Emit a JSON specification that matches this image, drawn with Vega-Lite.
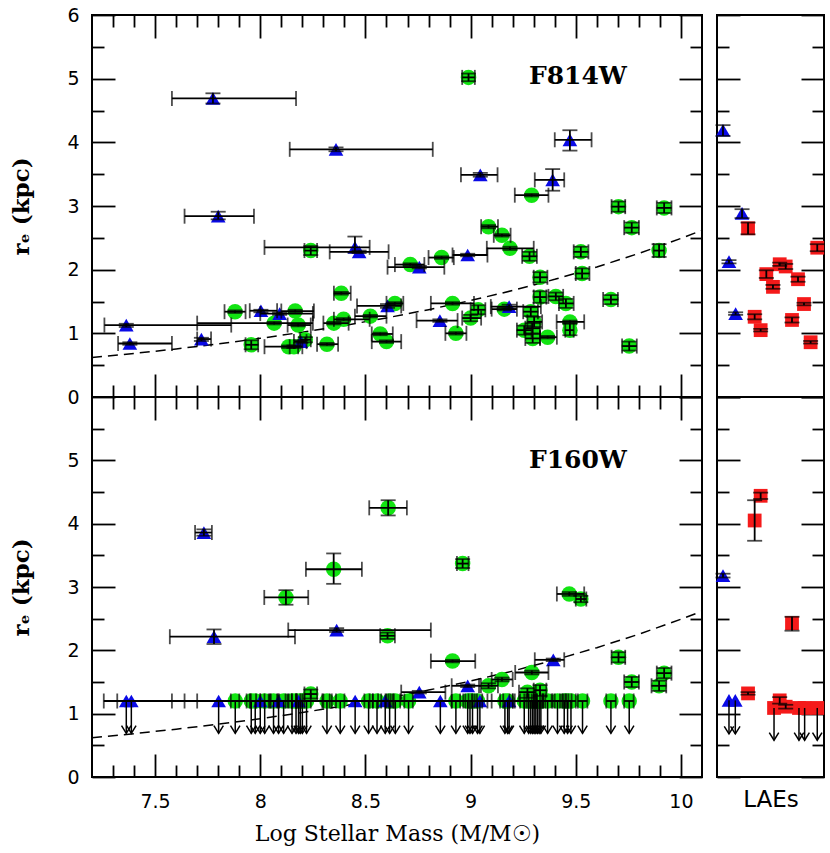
{
  "$schema": "https://vega.github.io/schema/vega-lite/v6.json",
  "padding": {"left": 9, "top": 5, "right": 5, "bottom": 5},
  "background": "white",
  "datasets": {
    "curve": [
      {"x": 7.2, "y": 0.619}, {"x": 7.4, "y": 0.684}, {"x": 7.6, "y": 0.755}, {"x": 7.8, "y": 0.834},
      {"x": 8.0, "y": 0.921}, {"x": 8.2, "y": 1.018}, {"x": 8.4, "y": 1.124}, {"x": 8.6, "y": 1.242},
      {"x": 8.8, "y": 1.372}, {"x": 9.0, "y": 1.515}, {"x": 9.2, "y": 1.673}, {"x": 9.4, "y": 1.848},
      {"x": 9.6, "y": 2.042}, {"x": 9.8, "y": 2.255}, {"x": 10.0, "y": 2.491}, {"x": 10.1, "y": 2.618}
    ],
    "top": [
      {"x": 8.99, "y": 5.02, "xl": 8.96, "xh": 9.02, "yl": 4.96, "yh": 5.08, "t": "g"},
      {"x": 9.29, "y": 3.17, "xl": 9.21, "xh": 9.37, "yl": 3.15, "yh": 3.19, "t": "g"},
      {"x": 9.085, "y": 2.675, "xl": 9.05, "xh": 9.13, "yl": 2.65, "yh": 2.7, "t": "g"},
      {"x": 9.149, "y": 2.54, "xl": 9.11, "xh": 9.19, "yl": 2.52, "yh": 2.56, "t": "g"},
      {"x": 9.187, "y": 2.335, "xl": 9.077, "xh": 9.3, "yl": 2.31, "yh": 2.36, "t": "g"},
      {"x": 9.28, "y": 2.21, "xl": 9.245, "xh": 9.315, "yl": 2.14, "yh": 2.28, "t": "g"},
      {"x": 9.524, "y": 2.28, "xl": 9.49, "xh": 9.56, "yl": 2.2, "yh": 2.36, "t": "g"},
      {"x": 9.703, "y": 2.99, "xl": 9.67, "xh": 9.735, "yl": 2.91, "yh": 3.07, "t": "g"},
      {"x": 9.92, "y": 2.97, "xl": 9.885, "xh": 9.955, "yl": 2.89, "yh": 3.05, "t": "g"},
      {"x": 9.766, "y": 2.66, "xl": 9.73, "xh": 9.8, "yl": 2.58, "yh": 2.74, "t": "g"},
      {"x": 9.896, "y": 2.3, "xl": 9.87, "xh": 9.92, "yl": 2.2, "yh": 2.4, "t": "g"},
      {"x": 9.33, "y": 1.88, "xl": 9.3, "xh": 9.365, "yl": 1.8, "yh": 1.96, "t": "g"},
      {"x": 9.53, "y": 1.94, "xl": 9.5, "xh": 9.565, "yl": 1.86, "yh": 2.02, "t": "g"},
      {"x": 8.862, "y": 2.19, "xl": 8.8, "xh": 8.92, "yl": 2.17, "yh": 2.21, "t": "g"},
      {"x": 8.713, "y": 2.08, "xl": 8.64, "xh": 8.78, "yl": 2.06, "yh": 2.1, "t": "g"},
      {"x": 9.667, "y": 1.53, "xl": 9.63, "xh": 9.7, "yl": 1.46, "yh": 1.6, "t": "g"},
      {"x": 9.754, "y": 0.8, "xl": 9.72, "xh": 9.79, "yl": 0.73, "yh": 0.87, "t": "g"},
      {"x": 8.914, "y": 1.47, "xl": 8.811, "xh": 9.016, "yl": 1.45, "yh": 1.49, "t": "g"},
      {"x": 9.16, "y": 1.38, "xl": 9.1, "xh": 9.22, "yl": 1.36, "yh": 1.4, "t": "g"},
      {"x": 9.036, "y": 1.37, "xl": 9.0, "xh": 9.07, "yl": 1.3, "yh": 1.44, "t": "g"},
      {"x": 9.0, "y": 1.24, "xl": 8.96, "xh": 9.05, "yl": 1.19, "yh": 1.29, "t": "g"},
      {"x": 8.93, "y": 1.0, "xl": 8.88, "xh": 8.98, "yl": 0.98, "yh": 1.02, "t": "g"},
      {"x": 9.33, "y": 1.57, "xl": 9.3, "xh": 9.36, "yl": 1.48, "yh": 1.66, "t": "g"},
      {"x": 9.405, "y": 1.58, "xl": 9.37, "xh": 9.44, "yl": 1.52, "yh": 1.64, "t": "g"},
      {"x": 9.453, "y": 1.47, "xl": 9.42, "xh": 9.49, "yl": 1.4, "yh": 1.54, "t": "g"},
      {"x": 9.286, "y": 1.34, "xl": 9.25, "xh": 9.32, "yl": 1.27, "yh": 1.41, "t": "g"},
      {"x": 9.302, "y": 1.18, "xl": 9.27, "xh": 9.34, "yl": 1.1, "yh": 1.26, "t": "g"},
      {"x": 9.295, "y": 1.08, "xl": 9.26, "xh": 9.33, "yl": 1.0, "yh": 1.16, "t": "g"},
      {"x": 9.255, "y": 1.05, "xl": 9.22, "xh": 9.29, "yl": 0.98, "yh": 1.12, "t": "g"},
      {"x": 9.295, "y": 0.92, "xl": 9.26, "xh": 9.33, "yl": 0.85, "yh": 0.99, "t": "g"},
      {"x": 9.366, "y": 0.94, "xl": 9.33, "xh": 9.41, "yl": 0.92, "yh": 0.96, "t": "g"},
      {"x": 9.472, "y": 1.18, "xl": 9.409, "xh": 9.54, "yl": 1.16, "yh": 1.2, "t": "g"},
      {"x": 9.472, "y": 1.05, "xl": 9.45, "xh": 9.49, "yl": 0.97, "yh": 1.15, "t": "g"},
      {"x": 7.957, "y": 0.82, "xl": 7.93, "xh": 7.99, "yl": 0.75, "yh": 0.89, "t": "g"},
      {"x": 7.88, "y": 1.34, "xl": 7.83, "xh": 7.93, "yl": 1.32, "yh": 1.36, "t": "g"},
      {"x": 8.166, "y": 1.35, "xl": 8.1, "xh": 8.255, "yl": 1.33, "yh": 1.37, "t": "g"},
      {"x": 8.066, "y": 1.16, "xl": 7.7, "xh": 8.25, "yl": 1.14, "yh": 1.18, "t": "g"},
      {"x": 8.18, "y": 1.13, "xl": 8.13, "xh": 8.24, "yl": 1.11, "yh": 1.15, "t": "g"},
      {"x": 8.135, "y": 0.79, "xl": 8.02, "xh": 8.2, "yl": 0.77, "yh": 0.81, "t": "g"},
      {"x": 8.16, "y": 0.79, "xl": 8.14, "xh": 8.18, "yl": 0.77, "yh": 0.81, "t": "g"},
      {"x": 8.214, "y": 0.9, "xl": 8.19, "xh": 8.24, "yl": 0.86, "yh": 0.94, "t": "g"},
      {"x": 8.317, "y": 0.83, "xl": 8.27, "xh": 8.37, "yl": 0.81, "yh": 0.85, "t": "g"},
      {"x": 8.35, "y": 1.16, "xl": 8.3, "xh": 8.42, "yl": 1.14, "yh": 1.18, "t": "g"},
      {"x": 8.396, "y": 1.22, "xl": 8.35, "xh": 8.52, "yl": 1.2, "yh": 1.24, "t": "g"},
      {"x": 8.385, "y": 1.63, "xl": 8.35, "xh": 8.43, "yl": 1.61, "yh": 1.65, "t": "g"},
      {"x": 8.523, "y": 1.27, "xl": 8.45, "xh": 8.6, "yl": 1.25, "yh": 1.29, "t": "g"},
      {"x": 8.57, "y": 0.99, "xl": 8.53, "xh": 8.63, "yl": 0.97, "yh": 1.01, "t": "g"},
      {"x": 8.6, "y": 0.87, "xl": 8.53, "xh": 8.67, "yl": 0.85, "yh": 0.89, "t": "g"},
      {"x": 8.64, "y": 1.47, "xl": 8.6, "xh": 8.68, "yl": 1.45, "yh": 1.49, "t": "g"},
      {"x": 8.24, "y": 2.3, "xl": 8.21, "xh": 8.27, "yl": 2.23, "yh": 2.37, "t": "g"},
      {"x": 7.775, "y": 4.69, "xl": 7.58, "xh": 8.17, "yl": 4.61, "yh": 4.77, "t": "b"},
      {"x": 8.36, "y": 3.89, "xl": 8.14, "xh": 8.82, "yl": 3.86, "yh": 3.92, "t": "b"},
      {"x": 7.8, "y": 2.84, "xl": 7.64, "xh": 7.97, "yl": 2.79, "yh": 2.91, "t": "b"},
      {"x": 8.45, "y": 2.35, "xl": 8.02, "xh": 8.52, "yl": 2.27, "yh": 2.52, "t": "b"},
      {"x": 8.47, "y": 2.28, "xl": 8.33, "xh": 8.61, "yl": 2.26, "yh": 2.3, "t": "b"},
      {"x": 9.472, "y": 4.04, "xl": 9.4, "xh": 9.575, "yl": 3.87, "yh": 4.19, "t": "b"},
      {"x": 9.046, "y": 3.49, "xl": 8.954, "xh": 9.128, "yl": 3.46, "yh": 3.52, "t": "b"},
      {"x": 9.39, "y": 3.41, "xl": 9.305, "xh": 9.445, "yl": 3.24, "yh": 3.58, "t": "b"},
      {"x": 8.986, "y": 2.23, "xl": 8.914, "xh": 9.08, "yl": 2.21, "yh": 2.25, "t": "b"},
      {"x": 8.756, "y": 2.04, "xl": 8.605, "xh": 8.875, "yl": 2.02, "yh": 2.06, "t": "b"},
      {"x": 9.183, "y": 1.42, "xl": 9.096, "xh": 9.334, "yl": 1.39, "yh": 1.45, "t": "b"},
      {"x": 8.854, "y": 1.2, "xl": 8.743, "xh": 8.938, "yl": 1.18, "yh": 1.22, "t": "b"},
      {"x": 7.363, "y": 1.13, "xl": 7.259, "xh": 7.862, "yl": 1.1, "yh": 1.15, "t": "b"},
      {"x": 7.38, "y": 0.84, "xl": 7.324, "xh": 7.58, "yl": 0.82, "yh": 0.86, "t": "b"},
      {"x": 7.72, "y": 0.91, "xl": 7.7, "xh": 7.766, "yl": 0.88, "yh": 0.93, "t": "b"},
      {"x": 8.003, "y": 1.355, "xl": 7.95, "xh": 8.08, "yl": 1.33, "yh": 1.37, "t": "b"},
      {"x": 8.092, "y": 1.31, "xl": 8.0, "xh": 8.25, "yl": 1.29, "yh": 1.33, "t": "b"},
      {"x": 8.193, "y": 0.87, "xl": 8.16, "xh": 8.22, "yl": 0.85, "yh": 0.89, "t": "b"},
      {"x": 8.605, "y": 1.43, "xl": 8.46, "xh": 8.67, "yl": 1.4, "yh": 1.46, "t": "b"}
    ],
    "bot": [
      {"x": 8.608, "y": 4.25, "xl": 8.518, "xh": 8.697, "yl": 4.13, "yh": 4.37, "t": "g", "ul": 0},
      {"x": 8.349, "y": 3.28, "xl": 8.217, "xh": 8.483, "yl": 3.05, "yh": 3.53, "t": "g", "ul": 0},
      {"x": 8.122, "y": 2.835, "xl": 8.019, "xh": 8.228, "yl": 2.72, "yh": 2.95, "t": "g", "ul": 0},
      {"x": 8.605, "y": 2.23, "xl": 8.57, "xh": 8.64, "yl": 2.18, "yh": 2.28, "t": "g", "ul": 0},
      {"x": 8.962, "y": 3.37, "xl": 8.935, "xh": 8.99, "yl": 3.3, "yh": 3.44, "t": "g", "ul": 0},
      {"x": 9.469, "y": 2.89, "xl": 9.41, "xh": 9.54, "yl": 2.86, "yh": 2.92, "t": "g", "ul": 0},
      {"x": 9.524, "y": 2.81, "xl": 9.5, "xh": 9.55, "yl": 2.76, "yh": 2.86, "t": "g", "ul": 0},
      {"x": 8.914, "y": 1.83, "xl": 8.811, "xh": 9.022, "yl": 1.81, "yh": 1.85, "t": "g", "ul": 0},
      {"x": 9.291, "y": 1.65, "xl": 9.212, "xh": 9.37, "yl": 1.62, "yh": 1.68, "t": "g", "ul": 0},
      {"x": 9.703, "y": 1.89, "xl": 9.67, "xh": 9.735, "yl": 1.81, "yh": 1.97, "t": "g", "ul": 0},
      {"x": 9.766, "y": 1.5, "xl": 9.73, "xh": 9.8, "yl": 1.42, "yh": 1.58, "t": "g", "ul": 0},
      {"x": 9.92, "y": 1.64, "xl": 9.885, "xh": 9.955, "yl": 1.56, "yh": 1.72, "t": "g", "ul": 0},
      {"x": 9.896, "y": 1.44, "xl": 9.86, "xh": 9.93, "yl": 1.36, "yh": 1.52, "t": "g", "ul": 0},
      {"x": 9.149, "y": 1.54, "xl": 9.1, "xh": 9.2, "yl": 1.51, "yh": 1.57, "t": "g", "ul": 0},
      {"x": 9.085, "y": 1.44, "xl": 9.04, "xh": 9.13, "yl": 1.4, "yh": 1.48, "t": "g", "ul": 0},
      {"x": 9.27, "y": 1.34, "xl": 9.23, "xh": 9.31, "yl": 1.25, "yh": 1.4, "t": "g", "ul": 0},
      {"x": 9.33, "y": 1.37, "xl": 9.3, "xh": 9.36, "yl": 1.28, "yh": 1.45, "t": "g", "ul": 0},
      {"x": 8.24, "y": 1.31, "xl": 8.21, "xh": 8.27, "yl": 1.24, "yh": 1.38, "t": "g", "ul": 0},
      {"x": 7.881, "y": 1.2, "xl": 7.86, "xh": 7.9, "t": "g", "ul": 1},
      {"x": 7.957, "y": 1.2, "xl": 7.935, "xh": 7.98, "t": "g", "ul": 1},
      {"x": 7.976, "y": 1.2, "xl": 7.955, "xh": 8.0, "t": "g", "ul": 1},
      {"x": 8.021, "y": 1.2, "xl": 8.0, "xh": 8.045, "t": "g", "ul": 1},
      {"x": 8.063, "y": 1.2, "xl": 8.04, "xh": 8.085, "t": "g", "ul": 1},
      {"x": 8.111, "y": 1.2, "xl": 8.09, "xh": 8.135, "t": "g", "ul": 1},
      {"x": 8.151, "y": 1.2, "xl": 8.13, "xh": 8.175, "t": "g", "ul": 1},
      {"x": 8.17, "y": 1.2, "xl": 8.15, "xh": 8.19, "t": "g", "ul": 1},
      {"x": 8.19, "y": 1.2, "xl": 8.17, "xh": 8.21, "t": "g", "ul": 1},
      {"x": 8.2, "y": 1.2, "xl": 8.15, "xh": 8.3, "t": "g", "ul": 1},
      {"x": 8.22, "y": 1.2, "xl": 8.2, "xh": 8.24, "t": "g", "ul": 1},
      {"x": 8.317, "y": 1.2, "xl": 8.295, "xh": 8.34, "t": "g", "ul": 1},
      {"x": 8.38, "y": 1.2, "xl": 8.36, "xh": 8.4, "t": "g", "ul": 1},
      {"x": 8.515, "y": 1.2, "xl": 8.495, "xh": 8.535, "t": "g", "ul": 1},
      {"x": 8.555, "y": 1.2, "xl": 8.535, "xh": 8.575, "t": "g", "ul": 1},
      {"x": 8.615, "y": 1.2, "xl": 8.595, "xh": 8.635, "t": "g", "ul": 1},
      {"x": 8.642, "y": 1.2, "xl": 8.62, "xh": 8.665, "t": "g", "ul": 1},
      {"x": 8.705, "y": 1.2, "xl": 8.685, "xh": 8.725, "t": "g", "ul": 1},
      {"x": 8.93, "y": 1.2, "xl": 8.91, "xh": 8.95, "t": "g", "ul": 1},
      {"x": 8.986, "y": 1.2, "xl": 8.965, "xh": 9.005, "t": "g", "ul": 1},
      {"x": 8.997, "y": 1.2, "xl": 8.975, "xh": 9.02, "t": "g", "ul": 1},
      {"x": 9.009, "y": 1.2, "xl": 8.99, "xh": 9.03, "t": "g", "ul": 1},
      {"x": 9.033, "y": 1.2, "xl": 9.01, "xh": 9.055, "t": "g", "ul": 1},
      {"x": 9.163, "y": 1.2, "xl": 9.14, "xh": 9.185, "t": "g", "ul": 1},
      {"x": 9.176, "y": 1.2, "xl": 9.155, "xh": 9.2, "t": "g", "ul": 1},
      {"x": 9.255, "y": 1.2, "xl": 9.235, "xh": 9.275, "t": "g", "ul": 1},
      {"x": 9.276, "y": 1.2, "xl": 9.255, "xh": 9.3, "t": "g", "ul": 1},
      {"x": 9.286, "y": 1.2, "xl": 9.265, "xh": 9.31, "t": "g", "ul": 1},
      {"x": 9.295, "y": 1.2, "xl": 9.275, "xh": 9.315, "t": "g", "ul": 1},
      {"x": 9.302, "y": 1.2, "xl": 9.21, "xh": 9.4, "t": "g", "ul": 1},
      {"x": 9.31, "y": 1.2, "xl": 9.29, "xh": 9.33, "t": "g", "ul": 1},
      {"x": 9.318, "y": 1.2, "xl": 9.3, "xh": 9.34, "t": "g", "ul": 1},
      {"x": 9.326, "y": 1.2, "xl": 9.305, "xh": 9.345, "t": "g", "ul": 1},
      {"x": 9.334, "y": 1.2, "xl": 9.315, "xh": 9.355, "t": "g", "ul": 1},
      {"x": 9.366, "y": 1.2, "xl": 9.345, "xh": 9.385, "t": "g", "ul": 1},
      {"x": 9.413, "y": 1.2, "xl": 9.39, "xh": 9.435, "t": "g", "ul": 1},
      {"x": 9.445, "y": 1.2, "xl": 9.425, "xh": 9.465, "t": "g", "ul": 1},
      {"x": 9.461, "y": 1.2, "xl": 9.44, "xh": 9.48, "t": "g", "ul": 1},
      {"x": 9.477, "y": 1.2, "xl": 9.455, "xh": 9.5, "t": "g", "ul": 1},
      {"x": 9.532, "y": 1.2, "xl": 9.51, "xh": 9.555, "t": "g", "ul": 1},
      {"x": 9.667, "y": 1.2, "xl": 9.645, "xh": 9.69, "t": "g", "ul": 1},
      {"x": 9.754, "y": 1.2, "xl": 9.73, "xh": 9.775, "t": "g", "ul": 1},
      {"x": 7.732, "y": 3.86, "xl": 7.69, "xh": 7.77, "yl": 3.81, "yh": 3.91, "t": "b", "ul": 0},
      {"x": 7.78, "y": 2.215, "xl": 7.57, "xh": 8.165, "yl": 2.1, "yh": 2.33, "t": "b", "ul": 0},
      {"x": 8.363, "y": 2.32, "xl": 8.133, "xh": 8.811, "yl": 2.29, "yh": 2.35, "t": "b", "ul": 0},
      {"x": 9.393, "y": 1.85, "xl": 9.305, "xh": 9.445, "yl": 1.83, "yh": 1.87, "t": "b", "ul": 0},
      {"x": 8.986, "y": 1.44, "xl": 8.91, "xh": 9.049, "yl": 1.42, "yh": 1.46, "t": "b", "ul": 0},
      {"x": 8.756, "y": 1.34, "xl": 8.67, "xh": 8.88, "yl": 1.32, "yh": 1.36, "t": "b", "ul": 0},
      {"x": 7.363, "y": 1.2, "xl": 7.256, "xh": 7.7, "t": "b", "ul": 1},
      {"x": 7.387, "y": 1.2, "xl": 7.32, "xh": 7.58, "t": "b", "ul": 1},
      {"x": 7.802, "y": 1.2, "xl": 7.64, "xh": 8.17, "t": "b", "ul": 1},
      {"x": 8.0, "y": 1.2, "xl": 7.95, "xh": 8.08, "t": "b", "ul": 1},
      {"x": 8.087, "y": 1.2, "xl": 8.05, "xh": 8.12, "t": "b", "ul": 1},
      {"x": 8.182, "y": 1.2, "xl": 8.02, "xh": 8.52, "t": "b", "ul": 1},
      {"x": 8.451, "y": 1.2, "xl": 8.33, "xh": 8.61, "t": "b", "ul": 1},
      {"x": 8.594, "y": 1.2, "xl": 8.56, "xh": 8.63, "t": "b", "ul": 1},
      {"x": 8.856, "y": 1.2, "xl": 8.6, "xh": 9.1, "t": "b", "ul": 1},
      {"x": 9.044, "y": 1.2, "xl": 8.91, "xh": 9.2, "t": "b", "ul": 1},
      {"x": 9.183, "y": 1.2, "xl": 9.08, "xh": 9.45, "t": "b", "ul": 1}
    ],
    "rtop": [
      {"x": 0.29, "y": 2.65, "yl": 2.555, "yh": 2.74, "t": "r"},
      {"x": 0.937, "y": 2.345, "yl": 2.29, "yh": 2.4, "t": "r"},
      {"x": 0.586, "y": 2.085, "yl": 2.06, "yh": 2.11, "t": "r"},
      {"x": 0.642, "y": 2.05, "yl": 2.01, "yh": 2.09, "t": "r"},
      {"x": 0.461, "y": 1.93, "yl": 1.87, "yh": 1.99, "t": "r"},
      {"x": 0.757, "y": 1.85, "yl": 1.81, "yh": 1.89, "t": "r"},
      {"x": 0.523, "y": 1.73, "yl": 1.7, "yh": 1.76, "t": "r"},
      {"x": 0.813, "y": 1.46, "yl": 1.44, "yh": 1.48, "t": "r"},
      {"x": 0.352, "y": 1.26, "yl": 1.22, "yh": 1.3, "t": "r"},
      {"x": 0.701, "y": 1.21, "yl": 1.17, "yh": 1.25, "t": "r"},
      {"x": 0.408, "y": 1.05, "yl": 1.03, "yh": 1.07, "t": "r"},
      {"x": 0.875, "y": 0.86, "yl": 0.84, "yh": 0.88, "t": "r"},
      {"x": 0.056, "y": 4.19, "yl": 4.1, "yh": 4.27, "t": "b"},
      {"x": 0.234, "y": 2.885, "yl": 2.81, "yh": 2.95, "t": "b"},
      {"x": 0.112, "y": 2.125, "yl": 2.1, "yh": 2.15, "t": "b"},
      {"x": 0.174, "y": 1.31, "yl": 1.29, "yh": 1.33, "t": "b"}
    ],
    "rbot": [
      {"x": 0.408, "y": 4.44, "yl": 4.39, "yh": 4.49, "t": "r", "ul": 0},
      {"x": 0.352, "y": 4.05, "yl": 3.73, "yh": 4.37, "t": "r", "ul": 0},
      {"x": 0.701, "y": 2.43, "yl": 2.31, "yh": 2.53, "t": "r", "ul": 0},
      {"x": 0.29, "y": 1.32, "yl": 1.3, "yh": 1.34, "t": "r", "ul": 0},
      {"x": 0.586, "y": 1.21, "yl": 1.16, "yh": 1.26, "t": "r", "ul": 0},
      {"x": 0.642, "y": 1.11, "yl": 1.08, "yh": 1.14, "t": "r", "ul": 0},
      {"x": 0.533, "y": 1.09, "t": "r", "ul": 1},
      {"x": 0.766, "y": 1.09, "t": "r", "ul": 1},
      {"x": 0.819, "y": 1.09, "t": "r", "ul": 1},
      {"x": 0.937, "y": 1.09, "t": "r", "ul": 1},
      {"x": 0.056, "y": 3.18, "yl": 3.15, "yh": 3.21, "t": "b", "ul": 0},
      {"x": 0.112, "y": 1.21, "t": "b", "ul": 1},
      {"x": 0.171, "y": 1.21, "t": "b", "ul": 1}
    ]
  },
  "bounds": "flush",
  "columns": 2,
  "spacing": {"row": 0, "column": 15},
  "resolve": {"scale": {"x": "independent", "y": "independent"}},
  "concat": [
    {
      "width": 610,
      "height": 382,
      "resolve": {"axis": {"x": "independent", "y": "independent"}},
      "layer": [
        {
          "data": {"name": "curve"},
          "mark": {"type": "line", "color": "black", "strokeWidth": 1.5, "strokeDash": [10, 6]},
          "encoding": {
            "x": {"field": "x", "type": "quantitative", "scale": {"domain": [7.2, 10.1], "nice": false, "zero": false},
              "axis": {"orient": "bottom", "values": [7.5, 8, 8.5, 9, 9.5, 10], "tickSize": -23, "labels": false, "title": null}},
            "y": {"field": "y", "type": "quantitative", "scale": {"domain": [0, 6], "nice": false, "zero": false},
              "axis": {"orient": "left", "values": [0, 1, 2, 3, 4, 5, 6], "tickSize": -23, "labelPadding": 36, "title": "rₑ (kpc)", "titlePadding": 33, "titleFont": "DejaVu Serif", "titleFontSize": 23, "titleFontWeight": "bold"}}
          }
        },
        {
          "data": {"name": "top"},
          "mark": {"type": "point", "filled": true, "opacity": 1},
          "encoding": {
            "x": {"field": "x", "type": "quantitative", "scale": {"domain": [7.2, 10.1], "nice": false, "zero": false},
              "axis": {"orient": "top", "values": [7.5, 8, 8.5, 9, 9.5, 10], "tickSize": -23, "labels": false, "title": null}},
            "y": {"field": "y", "type": "quantitative", "scale": {"domain": [0, 6], "nice": false, "zero": false},
              "axis": {"orient": "right", "values": [0, 1, 2, 3, 4, 5, 6], "tickSize": -23, "labels": false, "title": null}},
            "color": {"field": "t", "type": "nominal", "scale": {"domain": ["g", "b", "r"], "range": ["#12e412", "#0a0ae6", "#f51a1a"]}, "legend": null},
            "shape": {"field": "t", "type": "nominal", "scale": {"domain": ["g", "b", "r"], "range": ["circle", "triangle-up", "square"]}, "legend": null},
            "size": {"field": "t", "type": "ordinal", "scale": {"domain": ["g", "b", "r"], "range": [240, 190, 144]}, "legend": null}
          }
        },
        {
          "data": {"name": "top"},
          "mark": {"type": "rule", "color": "black", "strokeWidth": 1.8},
          "encoding": {
            "x": {"field": "xl", "type": "quantitative", "scale": {"domain": [7.2, 10.1], "nice": false, "zero": false},
              "axis": {"orient": "bottom", "values": [7.3, 7.4, 7.6, 7.7, 7.8, 7.9, 8.1, 8.2, 8.3, 8.4, 8.6, 8.7, 8.8, 8.9, 9.1, 9.2, 9.3, 9.4, 9.6, 9.7, 9.8, 9.9], "tickSize": -12, "labels": false, "title": null}},
            "x2": {"field": "xh"},
            "y": {"field": "y", "type": "quantitative", "scale": {"domain": [0, 6], "nice": false, "zero": false},
              "axis": {"orient": "left", "values": [0.5, 1.5, 2.5, 3.5, 4.5, 5.5], "tickSize": -12, "labels": false, "title": null}}
          }
        },
        {
          "data": {"name": "top"},
          "mark": {"type": "rule", "color": "black", "strokeWidth": 1.8},
          "encoding": {
            "x": {"field": "x", "type": "quantitative", "scale": {"domain": [7.2, 10.1], "nice": false, "zero": false},
              "axis": {"orient": "top", "values": [7.3, 7.4, 7.6, 7.7, 7.8, 7.9, 8.1, 8.2, 8.3, 8.4, 8.6, 8.7, 8.8, 8.9, 9.1, 9.2, 9.3, 9.4, 9.6, 9.7, 9.8, 9.9], "tickSize": -12, "labels": false, "title": null}},
            "y": {"field": "yl", "type": "quantitative", "scale": {"domain": [0, 6], "nice": false, "zero": false},
              "axis": {"orient": "right", "values": [0.5, 1.5, 2.5, 3.5, 4.5, 5.5], "tickSize": -12, "labels": false, "title": null}},
            "y2": {"field": "yh"}
          }
        },
        {
          "data": {"name": "top"},
          "transform": [{"fold": ["xl", "xh"], "as": ["k", "xv"]}],
          "mark": {"type": "tick", "orient": "vertical", "color": "black", "thickness": 1.8, "size": 15},
          "encoding": {
            "x": {"field": "xv", "type": "quantitative", "scale": {"domain": [7.2, 10.1], "nice": false, "zero": false}, "axis": null},
            "y": {"field": "y", "type": "quantitative", "scale": {"domain": [0, 6], "nice": false, "zero": false}, "axis": null}
          }
        },
        {
          "data": {"name": "top"},
          "transform": [{"fold": ["yl", "yh"], "as": ["k", "yv"]}],
          "mark": {"type": "tick", "orient": "horizontal", "color": "black", "thickness": 1.8, "size": 15},
          "encoding": {
            "x": {"field": "x", "type": "quantitative", "scale": {"domain": [7.2, 10.1], "nice": false, "zero": false}, "axis": null},
            "y": {"field": "yv", "type": "quantitative", "scale": {"domain": [0, 6], "nice": false, "zero": false}, "axis": null}
          }
        },
        {
          "data": {"values": [{"label": "F814W"}]},
          "mark": {"type": "text", "font": "DejaVu Serif", "fontWeight": "bold", "fontSize": 25, "color": "black", "align": "center", "baseline": "middle"},
          "encoding": {
            "x": {"datum": 9.51, "type": "quantitative", "scale": {"domain": [7.2, 10.1], "nice": false, "zero": false}, "axis": null},
            "y": {"datum": 5.04, "type": "quantitative", "scale": {"domain": [0, 6], "nice": false, "zero": false}, "axis": null},
            "text": {"field": "label"}
          }
        }
      ]
    },
    {
      "width": 107,
      "height": 382,
      "resolve": {"axis": {"x": "independent", "y": "independent"}},
      "layer": [
        {
          "data": {"name": "rtop"},
          "mark": {"type": "point", "filled": true, "opacity": 1},
          "encoding": {
            "x": {"field": "x", "type": "quantitative", "scale": {"domain": [0, 1], "nice": false, "zero": false}, "axis": null},
            "y": {"field": "y", "type": "quantitative", "scale": {"domain": [0, 6], "nice": false, "zero": false},
              "axis": {"orient": "left", "values": [0, 1, 2, 3, 4, 5, 6], "tickSize": -23, "labels": false, "title": null}},
            "color": {"field": "t", "type": "nominal", "scale": {"domain": ["g", "b", "r"], "range": ["#12e412", "#0a0ae6", "#f51a1a"]}, "legend": null},
            "shape": {"field": "t", "type": "nominal", "scale": {"domain": ["g", "b", "r"], "range": ["circle", "triangle-up", "square"]}, "legend": null},
            "size": {"field": "t", "type": "ordinal", "scale": {"domain": ["g", "b", "r"], "range": [240, 190, 144]}, "legend": null}
          }
        },
        {
          "data": {"name": "rtop"},
          "mark": {"type": "rule", "color": "black", "strokeWidth": 1.8},
          "encoding": {
            "x": {"field": "x", "type": "quantitative", "scale": {"domain": [0, 1], "nice": false, "zero": false}, "axis": null},
            "y": {"field": "yl", "type": "quantitative", "scale": {"domain": [0, 6], "nice": false, "zero": false},
              "axis": {"orient": "right", "values": [0, 1, 2, 3, 4, 5, 6], "tickSize": -23, "labels": false, "title": null}},
            "y2": {"field": "yh"}
          }
        },
        {
          "data": {"name": "rtop"},
          "mark": {"type": "tick", "orient": "horizontal", "color": "black", "thickness": 1.8, "size": 15},
          "encoding": {
            "x": {"field": "x", "type": "quantitative", "scale": {"domain": [0, 1], "nice": false, "zero": false}, "axis": null},
            "y": {"field": "yl", "type": "quantitative", "scale": {"domain": [0, 6], "nice": false, "zero": false},
              "axis": {"orient": "left", "values": [0.5, 1.5, 2.5, 3.5, 4.5, 5.5], "tickSize": -12, "labels": false, "title": null}}
          }
        },
        {
          "data": {"name": "rtop"},
          "mark": {"type": "tick", "orient": "horizontal", "color": "black", "thickness": 1.8, "size": 15},
          "encoding": {
            "x": {"field": "x", "type": "quantitative", "scale": {"domain": [0, 1], "nice": false, "zero": false}, "axis": null},
            "y": {"field": "yh", "type": "quantitative", "scale": {"domain": [0, 6], "nice": false, "zero": false},
              "axis": {"orient": "right", "values": [0.5, 1.5, 2.5, 3.5, 4.5, 5.5], "tickSize": -12, "labels": false, "title": null}}
          }
        }
      ]
    },
    {
      "width": 610,
      "height": 380,
      "resolve": {"axis": {"x": "independent", "y": "independent"}},
      "layer": [
        {
          "data": {"name": "curve"},
          "mark": {"type": "line", "color": "black", "strokeWidth": 1.5, "strokeDash": [10, 6]},
          "encoding": {
            "x": {"field": "x", "type": "quantitative", "scale": {"domain": [7.2, 10.1], "nice": false, "zero": false},
              "axis": {"orient": "bottom", "values": [7.5, 8, 8.5, 9, 9.5, 10], "tickSize": -23, "labelPadding": 38, "format": "~g", "title": "Log Stellar Mass (M/M☉)", "titlePadding": 12, "titleFont": "DejaVu Serif", "titleFontSize": 22, "titleFontWeight": "normal"}},
            "y": {"field": "y", "type": "quantitative", "scale": {"domain": [0, 6], "nice": false, "zero": false},
              "axis": {"orient": "left", "values": [0, 1, 2, 3, 4, 5], "tickSize": -23, "labelPadding": 36, "title": "rₑ (kpc)", "titlePadding": 33, "titleFont": "DejaVu Serif", "titleFontSize": 23, "titleFontWeight": "bold"}}
          }
        },
        {
          "data": {"name": "bot"},
          "mark": {"type": "point", "filled": true, "opacity": 1},
          "encoding": {
            "x": {"field": "x", "type": "quantitative", "scale": {"domain": [7.2, 10.1], "nice": false, "zero": false},
              "axis": {"orient": "top", "values": [7.5, 8, 8.5, 9, 9.5, 10], "tickSize": -23, "labels": false, "title": null}},
            "y": {"field": "y", "type": "quantitative", "scale": {"domain": [0, 6], "nice": false, "zero": false},
              "axis": {"orient": "right", "values": [0, 1, 2, 3, 4, 5, 6], "tickSize": -23, "labels": false, "title": null}},
            "color": {"field": "t", "type": "nominal", "scale": {"domain": ["g", "b", "r"], "range": ["#12e412", "#0a0ae6", "#f51a1a"]}, "legend": null},
            "shape": {"field": "t", "type": "nominal", "scale": {"domain": ["g", "b", "r"], "range": ["circle", "triangle-up", "square"]}, "legend": null},
            "size": {"field": "t", "type": "ordinal", "scale": {"domain": ["g", "b", "r"], "range": [240, 190, 144]}, "legend": null}
          }
        },
        {
          "data": {"name": "bot"},
          "mark": {"type": "rule", "color": "black", "strokeWidth": 1.8},
          "encoding": {
            "x": {"field": "xl", "type": "quantitative", "scale": {"domain": [7.2, 10.1], "nice": false, "zero": false},
              "axis": {"orient": "bottom", "values": [7.3, 7.4, 7.6, 7.7, 7.8, 7.9, 8.1, 8.2, 8.3, 8.4, 8.6, 8.7, 8.8, 8.9, 9.1, 9.2, 9.3, 9.4, 9.6, 9.7, 9.8, 9.9], "tickSize": -12, "labels": false, "title": null}},
            "x2": {"field": "xh"},
            "y": {"field": "y", "type": "quantitative", "scale": {"domain": [0, 6], "nice": false, "zero": false},
              "axis": {"orient": "left", "values": [0.5, 1.5, 2.5, 3.5, 4.5, 5.5], "tickSize": -12, "labels": false, "title": null}}
          }
        },
        {
          "data": {"name": "bot"},
          "transform": [{"filter": "datum.ul != 1"}],
          "mark": {"type": "rule", "color": "black", "strokeWidth": 1.8},
          "encoding": {
            "x": {"field": "x", "type": "quantitative", "scale": {"domain": [7.2, 10.1], "nice": false, "zero": false},
              "axis": {"orient": "top", "values": [7.3, 7.4, 7.6, 7.7, 7.8, 7.9, 8.1, 8.2, 8.3, 8.4, 8.6, 8.7, 8.8, 8.9, 9.1, 9.2, 9.3, 9.4, 9.6, 9.7, 9.8, 9.9], "tickSize": -12, "labels": false, "title": null}},
            "y": {"field": "yl", "type": "quantitative", "scale": {"domain": [0, 6], "nice": false, "zero": false},
              "axis": {"orient": "right", "values": [0.5, 1.5, 2.5, 3.5, 4.5, 5.5], "tickSize": -12, "labels": false, "title": null}},
            "y2": {"field": "yh"}
          }
        },
        {
          "data": {"name": "bot"},
          "transform": [{"fold": ["xl", "xh"], "as": ["k", "xv"]}],
          "mark": {"type": "tick", "orient": "vertical", "color": "black", "thickness": 1.8, "size": 15},
          "encoding": {
            "x": {"field": "xv", "type": "quantitative", "scale": {"domain": [7.2, 10.1], "nice": false, "zero": false}, "axis": null},
            "y": {"field": "y", "type": "quantitative", "scale": {"domain": [0, 6], "nice": false, "zero": false}, "axis": null}
          }
        },
        {
          "data": {"name": "bot"},
          "transform": [{"filter": "datum.ul != 1"}, {"fold": ["yl", "yh"], "as": ["k", "yv"]}],
          "mark": {"type": "tick", "orient": "horizontal", "color": "black", "thickness": 1.8, "size": 15},
          "encoding": {
            "x": {"field": "x", "type": "quantitative", "scale": {"domain": [7.2, 10.1], "nice": false, "zero": false}, "axis": null},
            "y": {"field": "yv", "type": "quantitative", "scale": {"domain": [0, 6], "nice": false, "zero": false}, "axis": null}
          }
        },
        {
          "data": {"name": "bot"},
          "transform": [{"filter": "datum.ul == 1"}],
          "mark": {"type": "rule", "color": "black", "strokeWidth": 1.5},
          "encoding": {
            "x": {"field": "x", "type": "quantitative", "scale": {"domain": [7.2, 10.1], "nice": false, "zero": false}, "axis": null},
            "y": {"field": "y", "type": "quantitative", "scale": {"domain": [0, 6], "nice": false, "zero": false}, "axis": null},
            "y2": {"datum": 0.69}
          }
        },
        {
          "data": {"name": "bot"},
          "transform": [{"filter": "datum.ul == 1"}],
          "mark": {"type": "point", "shape": "M-1,-1.6L0,0L1,-1.6", "filled": false, "color": "black", "strokeWidth": 1.5, "size": 90, "opacity": 1},
          "encoding": {
            "x": {"field": "x", "type": "quantitative", "scale": {"domain": [7.2, 10.1], "nice": false, "zero": false}, "axis": null},
            "y": {"datum": 0.69, "type": "quantitative", "scale": {"domain": [0, 6], "nice": false, "zero": false}, "axis": null}
          }
        },
        {
          "data": {"values": [{"label": "F160W"}]},
          "mark": {"type": "text", "font": "DejaVu Serif", "fontWeight": "bold", "fontSize": 25, "color": "black", "align": "center", "baseline": "middle"},
          "encoding": {
            "x": {"datum": 9.51, "type": "quantitative", "scale": {"domain": [7.2, 10.1], "nice": false, "zero": false}, "axis": null},
            "y": {"datum": 5.01, "type": "quantitative", "scale": {"domain": [0, 6], "nice": false, "zero": false}, "axis": null},
            "text": {"field": "label"}
          }
        }
      ]
    },
    {
      "width": 107,
      "height": 380,
      "resolve": {"axis": {"x": "independent", "y": "independent"}},
      "layer": [
        {
          "data": {"name": "rbot"},
          "mark": {"type": "point", "filled": true, "opacity": 1},
          "encoding": {
            "x": {"field": "x", "type": "quantitative", "scale": {"domain": [0, 1], "nice": false, "zero": false},
              "axis": {"orient": "bottom", "ticks": false, "labels": false, "title": "LAEs", "titleFont": "DejaVu Sans", "titleFontSize": 23, "titleFontWeight": "normal", "titlePadding": 11}},
            "y": {"field": "y", "type": "quantitative", "scale": {"domain": [0, 6], "nice": false, "zero": false},
              "axis": {"orient": "left", "values": [0, 1, 2, 3, 4, 5, 6], "tickSize": -23, "labels": false, "title": null}},
            "color": {"field": "t", "type": "nominal", "scale": {"domain": ["g", "b", "r"], "range": ["#12e412", "#0a0ae6", "#f51a1a"]}, "legend": null},
            "shape": {"field": "t", "type": "nominal", "scale": {"domain": ["g", "b", "r"], "range": ["circle", "triangle-up", "square"]}, "legend": null},
            "size": {"field": "t", "type": "ordinal", "scale": {"domain": ["g", "b", "r"], "range": [240, 190, 144]}, "legend": null}
          }
        },
        {
          "data": {"name": "rbot"},
          "transform": [{"filter": "datum.ul != 1"}],
          "mark": {"type": "rule", "color": "black", "strokeWidth": 1.8},
          "encoding": {
            "x": {"field": "x", "type": "quantitative", "scale": {"domain": [0, 1], "nice": false, "zero": false}, "axis": null},
            "y": {"field": "yl", "type": "quantitative", "scale": {"domain": [0, 6], "nice": false, "zero": false},
              "axis": {"orient": "right", "values": [0, 1, 2, 3, 4, 5, 6], "tickSize": -23, "labels": false, "title": null}},
            "y2": {"field": "yh"}
          }
        },
        {
          "data": {"name": "rbot"},
          "transform": [{"filter": "datum.ul != 1"}],
          "mark": {"type": "tick", "orient": "horizontal", "color": "black", "thickness": 1.8, "size": 15},
          "encoding": {
            "x": {"field": "x", "type": "quantitative", "scale": {"domain": [0, 1], "nice": false, "zero": false}, "axis": null},
            "y": {"field": "yl", "type": "quantitative", "scale": {"domain": [0, 6], "nice": false, "zero": false},
              "axis": {"orient": "left", "values": [0.5, 1.5, 2.5, 3.5, 4.5, 5.5], "tickSize": -12, "labels": false, "title": null}}
          }
        },
        {
          "data": {"name": "rbot"},
          "transform": [{"filter": "datum.ul != 1"}],
          "mark": {"type": "tick", "orient": "horizontal", "color": "black", "thickness": 1.8, "size": 15},
          "encoding": {
            "x": {"field": "x", "type": "quantitative", "scale": {"domain": [0, 1], "nice": false, "zero": false}, "axis": null},
            "y": {"field": "yh", "type": "quantitative", "scale": {"domain": [0, 6], "nice": false, "zero": false},
              "axis": {"orient": "right", "values": [0.5, 1.5, 2.5, 3.5, 4.5, 5.5], "tickSize": -12, "labels": false, "title": null}}
          }
        },
        {
          "data": {"name": "rbot"},
          "transform": [{"filter": "datum.ul == 1 && datum.t == 'b'"}],
          "mark": {"type": "rule", "color": "black", "strokeWidth": 1.5},
          "encoding": {
            "x": {"field": "x", "type": "quantitative", "scale": {"domain": [0, 1], "nice": false, "zero": false}, "axis": null},
            "y": {"field": "y", "type": "quantitative", "scale": {"domain": [0, 6], "nice": false, "zero": false}, "axis": null},
            "y2": {"datum": 0.68}
          }
        },
        {
          "data": {"name": "rbot"},
          "transform": [{"filter": "datum.ul == 1 && datum.t == 'b'"}],
          "mark": {"type": "point", "shape": "M-1,-1.6L0,0L1,-1.6", "filled": false, "color": "black", "strokeWidth": 1.5, "size": 90, "opacity": 1},
          "encoding": {
            "x": {"field": "x", "type": "quantitative", "scale": {"domain": [0, 1], "nice": false, "zero": false}, "axis": null},
            "y": {"datum": 0.68, "type": "quantitative", "scale": {"domain": [0, 6], "nice": false, "zero": false}, "axis": null}
          }
        },
        {
          "data": {"name": "rbot"},
          "transform": [{"filter": "datum.ul == 1 && datum.t == 'r'"}],
          "mark": {"type": "rule", "color": "black", "strokeWidth": 1.5},
          "encoding": {
            "x": {"field": "x", "type": "quantitative", "scale": {"domain": [0, 1], "nice": false, "zero": false}, "axis": null},
            "y": {"field": "y", "type": "quantitative", "scale": {"domain": [0, 6], "nice": false, "zero": false}, "axis": null},
            "y2": {"datum": 0.58}
          }
        },
        {
          "data": {"name": "rbot"},
          "transform": [{"filter": "datum.ul == 1 && datum.t == 'r'"}],
          "mark": {"type": "point", "shape": "M-1,-1.6L0,0L1,-1.6", "filled": false, "color": "black", "strokeWidth": 1.5, "size": 90, "opacity": 1},
          "encoding": {
            "x": {"field": "x", "type": "quantitative", "scale": {"domain": [0, 1], "nice": false, "zero": false}, "axis": null},
            "y": {"datum": 0.58, "type": "quantitative", "scale": {"domain": [0, 6], "nice": false, "zero": false}, "axis": null}
          }
        }
      ]
    }
  ],
  "config": {
    "view": {"stroke": "black", "strokeWidth": 2},
    "axis": {
      "grid": false,
      "domain": false,
      "tickColor": "black",
      "tickWidth": 1.8,
      "labelFont": "DejaVu Sans",
      "labelFontSize": 19,
      "labelColor": "black",
      "labelFlush": false,
      "labelOverlap": false,
      "labelBound": false,
      "titleColor": "black"
    }
  }
}
